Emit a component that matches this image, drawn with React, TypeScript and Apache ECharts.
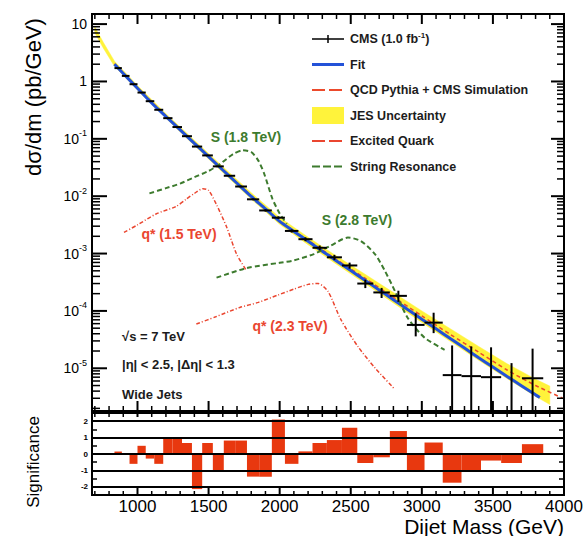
import React, { useEffect, useRef } from 'react';
import * as echarts from 'echarts';

const FONT = '"Liberation Sans", Arial, Helvetica, sans-serif';

const X_MIN = 680;
const X_MAX = 4000;
const Y_MIN = 1.8e-6;
const Y_MAX = 15;
const SIG_MIN = -2.5;
const SIG_MAX = 2.5;

// dijet mass bin edges (GeV)
const binEdges = [838, 890, 944, 1000, 1058, 1118, 1181, 1246, 1313, 1383, 1455, 1530, 1607, 1687, 1770, 1856, 1945, 2037, 2132, 2231, 2332, 2438, 2546, 2659, 2775, 2895, 3019, 3147, 3279, 3416, 3558, 3704, 3854];
// measured dsigma/dm (pb/GeV); null = empty bin
const dataValue = [1.71, 1.25, 0.896, 0.641, 0.453, 0.321, 0.2293, 0.1605, 0.1112, 0.0733, 0.0514, 0.0331, 0.0227, 0.01475, 0.00882, 0.00564, 0.00422, 0.00248, 0.00178, 0.00126, 8.6e-4, 6.2e-4, 3.0e-4, 2.1e-4, 1.83e-4, 5.7e-5, 6.25e-5, 7.6e-6, 7.3e-6, 7.0e-6, null, 6.7e-6];
const dataLow = [1.704, 1.245, 0.892, 0.638, 0.45, 0.319, 0.2274, 0.1589, 0.1099, 0.0723, 0.0506, 0.0324, 0.0222, 0.01432, 0.00851, 0.00539, 0.00399, 0.00232, 0.00164, 0.00114, 7.7e-4, 5.45e-4, 2.5e-4, 1.68e-4, 1.44e-4, 3.6e-5, 4.1e-5, 1.3e-6, 1.26e-6, 1.2e-6, 1e-7, 1.15e-6];
const dataHigh = [1.716, 1.255, 0.9, 0.644, 0.456, 0.323, 0.2312, 0.1621, 0.1125, 0.0743, 0.0522, 0.0338, 0.0232, 0.01518, 0.00913, 0.00589, 0.00445, 0.00264, 0.00192, 0.00138, 9.5e-4, 6.95e-4, 3.5e-4, 2.52e-4, 2.25e-4, 9.1e-5, 9.3e-5, 2.5e-5, 2.41e-5, 2.32e-5, 1.23e-5, 2.2e-5];
// (data - fit)/sigma per bin
const significance = [0.15, 0.0, -0.6, 0.5, -0.28, -0.6, 1.0, 1.0, 0.67, -2.14, 0.67, -1.04, 0.82, 0.82, -1.38, -1.38, 2.1, -0.6, 0.16, 0.67, 0.85, 1.6, -0.55, -0.2, 1.4, -1.0, 0.7, -1.75, -1.0, -0.4, -0.55, 0.6];

const fitMass = [838, 900, 1000, 1100, 1200, 1300, 1400, 1500, 1600, 1700, 1800, 1900, 2000, 2100, 2200, 2300, 2400, 2500, 2600, 2700, 2800, 2900, 3000, 3100, 3200, 3300, 3400, 3500, 3600, 3700, 3800, 3830];
const fitValue = [2.0, 1.38, 0.759, 0.422, 0.245, 0.143, 0.0836, 0.049, 0.0286, 0.0168, 0.00989, 0.00603, 0.00363, 0.00243, 0.00164, 0.0011, 7.45e-4, 5.05e-4, 3.42e-4, 2.32e-4, 1.57e-4, 1.06e-4, 7.19e-5, 4.88e-5, 3.3e-5, 2.25e-5, 1.53e-5, 1.05e-5, 7.19e-6, 4.98e-6, 3.44e-6, 3.1e-6];

const qcdMass = [838, 1000, 1200, 1400, 1600, 1800, 2000, 2200, 2400, 2600, 2800, 3000, 3200, 3400, 3600, 3800, 3990];
const qcdValue = [2.04, 0.776, 0.251, 0.0851, 0.0292, 0.0101, 0.00372, 0.0017, 7.85e-4, 3.72e-4, 1.74e-4, 8.22e-5, 3.89e-5, 1.91e-5, 9.33e-6, 5.01e-6, 3.02e-6];

const jesMass = [700, 760, 838, 1000, 1200, 1400, 1600, 1800, 2000, 2200, 2400, 2600, 2800, 3000, 3200, 3400, 3600, 3800, 3900];
const jesLow = [7.08, 3.8, 1.84, 0.708, 0.229, 0.0767, 0.026, 0.00891, 0.00324, 0.00143, 6.53e-4, 3.02e-4, 1.38e-4, 6.31e-5, 2.95e-5, 1.38e-5, 6.61e-6, 3.24e-6, 2.34e-6];
const jesHigh = [8.91, 4.79, 2.26, 0.851, 0.275, 0.0944, 0.0327, 0.01148, 0.00427, 0.00193, 9.02e-4, 4.37e-4, 2.09e-4, 1.0e-4, 4.9e-5, 2.4e-5, 1.2e-5, 6.46e-6, 4.9e-6];

const s18Mass = [1084, 1200, 1300, 1400, 1500, 1580, 1670, 1740, 1800, 1850, 1890, 1950, 2000, 2050];
const s18Value = [0.0112, 0.0138, 0.0166, 0.0214, 0.0275, 0.0363, 0.0537, 0.0631, 0.0589, 0.0417, 0.0251, 0.00891, 0.00501, 0.00331];

const q15Mass = [905, 1000, 1130, 1270, 1343, 1400, 1460, 1500, 1556, 1627, 1697, 1768];
const q15Value = [2.34e-3, 3.16e-3, 4.9e-3, 6.6e-3, 8.9e-3, 0.0112, 0.0135, 0.0126, 7.1e-3, 2.9e-3, 9.8e-4, 5.0e-4];

const s28Mass = [1556, 1770, 2000, 2100, 2240, 2360, 2480, 2570, 2670, 2740, 2810, 2900, 3020, 3160];
const s28Value = [3.8e-4, 5.6e-4, 6.9e-4, 7.6e-4, 9.8e-4, 1.38e-3, 1.9e-3, 1.66e-3, 9.8e-4, 5.0e-4, 2.24e-4, 7.6e-5, 3.4e-5, 2.1e-5];

const q23Mass = [1414, 1550, 1720, 1850, 1990, 2100, 2200, 2270, 2340, 2430, 2550, 2670, 2810];
const q23Value = [5.9e-5, 7.9e-5, 1.15e-4, 1.41e-4, 1.9e-4, 2.4e-4, 2.9e-4, 3.0e-4, 2.19e-4, 7.1e-5, 2.4e-5, 1.02e-5, 4.3e-6];

// tick positions
const xTicks = [700, 800, 900, 1000, 1100, 1200, 1300, 1400, 1500, 1600, 1700, 1800, 1900, 2000, 2100, 2200, 2300, 2400, 2500, 2600, 2700, 2800, 2900, 3000, 3100, 3200, 3300, 3400, 3500, 3600, 3700, 3800, 3900, 4000];
const yMajorTicks = [1e-5, 1e-4, 1e-3, 1e-2, 1e-1, 1, 10];
const yMinorTicks = [
  2e-6, 3e-6, 4e-6, 5e-6, 6e-6, 7e-6, 8e-6, 9e-6,
  2e-5, 3e-5, 4e-5, 5e-5, 6e-5, 7e-5, 8e-5, 9e-5,
  2e-4, 3e-4, 4e-4, 5e-4, 6e-4, 7e-4, 8e-4, 9e-4,
  2e-3, 3e-3, 4e-3, 5e-3, 6e-3, 7e-3, 8e-3, 9e-3,
  0.02, 0.03, 0.04, 0.05, 0.06, 0.07, 0.08, 0.09,
  0.2, 0.3, 0.4, 0.5, 0.6, 0.7, 0.8, 0.9,
  2, 3, 4, 5, 6, 7, 8, 9,
];
const sigLines = [-2, -1, 0, 1, 2];

const C_FIT = '#2352d8';
const C_QCD = '#ec4a2c';
const C_JES = '#fff33b';
const C_GREEN = '#3d7b2e';
const C_RED = '#ea4630';
const C_SIG = '#e8380f';
const C_TEXT = '#1c1c1c';

const zip = (a: number[], b: number[]) => a.map((v, i) => [v, b[i]]);

function lineSeries(name: string, xs: number[], ys: number[], color: string, width: number, type: any, z: number) {
  return {
    name,
    type: 'line',
    xAxisIndex: 0,
    yAxisIndex: 0,
    data: zip(xs, ys),
    symbol: 'none',
    showSymbol: false,
    smooth: 0.25,
    lineStyle: { color, width, type },
    z,
    silent: true,
  };
}

function txt(text: string, x: number, y: number, color: string, size: number, align = 'left', weight = 'bold', rotation = 0) {
  return {
    type: 'text',
    x,
    y,
    rotation,
    silent: true,
    z: 100,
    style: {
      text,
      fill: color,
      fontSize: size,
      fontFamily: FONT,
      fontWeight: weight,
      textAlign: align,
      align,
      textVerticalAlign: 'middle',
      verticalAlign: 'middle',
    },
  };
}

function legendLine(y: number, color: string, width: number, dash: any) {
  return {
    type: 'line',
    silent: true,
    z: 100,
    shape: { x1: 312, y1: y, x2: 344, y2: y },
    style: { stroke: color, lineWidth: width, lineDash: dash },
  };
}

export default function App() {
  const ref = useRef<HTMLDivElement>(null);

  useEffect(() => {
    const chart = echarts.init(ref.current!, null, { renderer: 'svg' });

    const rows = binEdges.slice(0, -1).map((lo, i) => [lo, binEdges[i + 1], dataValue[i], dataLow[i], dataHigh[i]]);
    const sigRows = binEdges.slice(0, -1).map((lo, i) => [lo, binEdges[i + 1], significance[i]]);

    const legendRows = [39, 64.5, 90, 115.5, 141, 166.5];

    const option: any = {
      animation: false,
      backgroundColor: '#ffffff',
      grid: [
        { left: 92, top: 14, width: 472, height: 397, show: true, borderColor: '#000', borderWidth: 2, backgroundColor: 'transparent', outerBoundsMode: 'none' },
        { left: 92, top: 413, width: 472, height: 82, show: true, borderColor: '#000', borderWidth: 2, backgroundColor: 'transparent', outerBoundsMode: 'none' },
      ],
      xAxis: [
        { gridIndex: 0, type: 'value', min: X_MIN, max: X_MAX, axisLabel: { show: false }, axisTick: { show: false }, axisLine: { show: false }, splitLine: { show: false } },
        {
          gridIndex: 1, type: 'value', min: X_MIN, max: X_MAX, minInterval: 500, maxInterval: 500,
          axisLabel: {
            fontSize: 17, color: '#000', fontFamily: FONT, margin: 3, lineHeight: 17,
            formatter: (v: number) => (v % 500 === 0 ? String(v) : ''),
          },
          axisTick: { show: false }, axisLine: { show: false }, splitLine: { show: false },
        },
      ],
      yAxis: [
        {
          gridIndex: 0, type: 'log', logBase: 10, min: Y_MIN, max: Y_MAX,
          axisLabel: {
            margin: 5,
            formatter: (v: number) => {
              const e = Math.log10(v);
              const r = Math.round(e);
              if (Math.abs(e - r) > 1e-6) return '';
              if (r === 0) return '{b|1}';
              if (r === 1) return '{b|10}';
              return '{b|10}{s|' + r + '}';
            },
            rich: {
              b: { fontSize: 14, fontFamily: FONT, color: '#000', lineHeight: 20 },
              s: { fontSize: 9, fontFamily: FONT, color: '#000', verticalAlign: 'top', lineHeight: 10 },
            },
          },
          axisTick: { show: false }, axisLine: { show: false }, splitLine: { show: false },
        },
        {
          gridIndex: 1, type: 'value', min: SIG_MIN, max: SIG_MAX, interval: 0.5,
          axisLabel: {
            fontSize: 8, color: '#000', fontFamily: FONT, margin: 4, fontWeight: 'bold',
            formatter: (v: number) => (Number.isInteger(v) && Math.abs(v) <= 2 ? String(v) : ''),
          },
          axisTick: { show: true, inside: true, length: 5, lineStyle: { color: '#000', width: 1.5 } },
          axisLine: { show: false }, splitLine: { show: false },
        },
        {
          gridIndex: 1, type: 'value', position: 'right', min: SIG_MIN, max: SIG_MAX, interval: 0.5,
          axisLabel: { show: false },
          axisTick: { show: true, inside: true, length: 5, lineStyle: { color: '#000', width: 1.5 } },
          axisLine: { show: false }, splitLine: { show: false },
        },
      ],
      series: [
        {
          name: 'JES Uncertainty',
          type: 'custom',
          xAxisIndex: 0,
          yAxisIndex: 0,
          silent: true,
          z: 1,
          data: jesMass.map((m, i) => [m, jesLow[i], jesHigh[i]]),
          renderItem: (params: any, api: any) => {
            if (params.dataIndexInside !== 0) return { type: 'group', children: [] };
            const n = params.dataInsideLength;
            const upper: number[][] = [];
            const lower: number[][] = [];
            for (let i = 0; i < n; i++) {
              const m = api.value(0, i);
              upper.push(api.coord([m, api.value(2, i)]));
              lower.push(api.coord([m, api.value(1, i)]));
            }
            return {
              type: 'polygon',
              shape: { points: upper.concat(lower.reverse()) },
              style: { fill: C_JES, stroke: C_JES, lineWidth: 0.5 },
            };
          },
        },
        lineSeries('QCD Pythia + CMS Simulation', qcdMass, qcdValue, C_QCD, 1.5, [4, 3], 2),
        lineSeries('Fit', fitMass, fitValue, C_FIT, 3, 'solid', 3),
        lineSeries('S (1.8 TeV)', s18Mass, s18Value, C_GREEN, 2, [5, 3], 4),
        lineSeries('S (2.8 TeV)', s28Mass, s28Value, C_GREEN, 2, [5, 3], 4),
        lineSeries('q* (1.5 TeV)', q15Mass, q15Value, C_RED, 1.5, [4, 2, 1, 2], 4),
        lineSeries('q* (2.3 TeV)', q23Mass, q23Value, C_RED, 1.5, [4, 2, 1, 2], 4),
        {
          name: 'CMS (1.0 fb-1)',
          type: 'custom',
          xAxisIndex: 0,
          yAxisIndex: 0,
          silent: true,
          z: 6,
          data: rows,
          renderItem: (params: any, api: any) => {
            const cs = params.coordSys;
            const clampY = (y: number) => Math.max(cs.y, Math.min(cs.y + cs.height, y));
            const lo = api.value(0);
            const hi = api.value(1);
            const v = api.value(2);
            const eLo = api.value(3);
            const eHi = api.value(4);
            const c = (lo + hi) / 2;
            const xc = api.coord([c, 1])[0];
            const yLo = clampY(api.coord([c, eLo])[1]);
            const yHi = clampY(api.coord([c, eHi])[1]);
            const children: any[] = [
              { type: 'line', shape: { x1: xc, y1: yLo, x2: xc, y2: yHi }, style: { stroke: '#000', lineWidth: 2 } },
            ];
            if (!isNaN(v) && v > 0) {
              const y = api.coord([c, v])[1];
              const x1 = api.coord([lo, v])[0];
              const x2 = api.coord([hi, v])[0];
              children.push({ type: 'line', shape: { x1, y1: y, x2, y2: y }, style: { stroke: '#000', lineWidth: 2 } });
            }
            return { type: 'group', children };
          },
        },
        {
          name: 'xticks-main',
          type: 'custom',
          xAxisIndex: 0,
          yAxisIndex: 0,
          silent: true,
          z: 8,
          data: xTicks.map((v) => [v, 1]),
          renderItem: (params: any, api: any) => {
            const cs = params.coordSys;
            const v = api.value(0);
            const x = api.coord([v, 1])[0];
            const major = v % 500 === 0;
            const len = major ? 10 : 5;
            const st = { stroke: '#000', lineWidth: major ? 2 : 1.5 };
            return {
              type: 'group',
              children: [
                { type: 'line', shape: { x1: x, y1: cs.y, x2: x, y2: cs.y + len }, style: st },
                { type: 'line', shape: { x1: x, y1: cs.y + cs.height, x2: x, y2: cs.y + cs.height - len }, style: st },
              ],
            };
          },
        },
        {
          name: 'yticks-main',
          type: 'custom',
          xAxisIndex: 0,
          yAxisIndex: 0,
          silent: true,
          z: 8,
          data: yMajorTicks.map((v) => [X_MIN, v, 1]).concat(yMinorTicks.map((v) => [X_MIN, v, 0])),
          renderItem: (params: any, api: any) => {
            const cs = params.coordSys;
            const v = api.value(1);
            const major = api.value(2) === 1;
            const y = api.coord([X_MIN, v])[1];
            const len = major ? 15 : 8;
            const lenR = major ? 13 : 7;
            const st = { stroke: '#000', lineWidth: major ? 2 : 1.5 };
            return {
              type: 'group',
              children: [
                { type: 'line', shape: { x1: cs.x, y1: y, x2: cs.x + len, y2: y }, style: st },
                { type: 'line', shape: { x1: cs.x + cs.width, y1: y, x2: cs.x + cs.width - lenR, y2: y }, style: st },
              ],
            };
          },
        },
        {
          name: 'Significance',
          type: 'custom',
          xAxisIndex: 1,
          yAxisIndex: 1,
          silent: true,
          z: 2,
          data: sigRows,
          renderItem: (params: any, api: any) => {
            const lo = api.value(0);
            const hi = api.value(1);
            const s = api.value(2);
            const p0 = api.coord([lo, 0]);
            const p1 = api.coord([hi, s]);
            return {
              type: 'rect',
              shape: { x: p0[0], y: Math.min(p0[1], p1[1]), width: p1[0] - p0[0], height: Math.abs(p1[1] - p0[1]) },
              style: { fill: C_SIG },
            };
          },
          markLine: {
            silent: true,
            symbol: ['none', 'none'],
            label: { show: false },
            lineStyle: { color: '#000', width: 2, type: 'solid' },
            data: sigLines.map((v) => ({ yAxis: v })),
            z: 5,
          },
        },
        {
          name: 'xticks-low',
          type: 'custom',
          xAxisIndex: 1,
          yAxisIndex: 1,
          silent: true,
          z: 8,
          data: xTicks.map((v) => [v, 0]),
          renderItem: (params: any, api: any) => {
            const cs = params.coordSys;
            const v = api.value(0);
            const x = api.coord([v, 0])[0];
            const major = v % 500 === 0;
            const st = { stroke: '#000', lineWidth: major ? 2 : 1.5 };
            return {
              type: 'group',
              children: [
                { type: 'line', shape: { x1: x, y1: cs.y, x2: x, y2: cs.y + 4 }, style: st },
                { type: 'line', shape: { x1: x, y1: cs.y + cs.height, x2: x, y2: cs.y + cs.height - (major ? 7 : 4) }, style: st },
              ],
            };
          },
        },
      ],
      graphic: [
        txt('dσ/dm (pb/GeV)', 33, 97, '#000', 22, 'center', 'normal', Math.PI / 2),
        txt('Significance', 33, 462, '#000', 17, 'center', 'normal', Math.PI / 2),
        txt('Dijet Mass (GeV)', 564, 526, '#000', 21, 'right', 'normal'),
        // legend
        legendLine(legendRows[0], '#000', 1.5, null),
        { type: 'line', silent: true, z: 100, shape: { x1: 328, y1: legendRows[0] - 4, x2: 328, y2: legendRows[0] + 4 }, style: { stroke: '#000', lineWidth: 1.5 } },
        {
          type: 'text', x: 350, y: legendRows[0], silent: true, z: 100,
          style: {
            text: '{a|CMS (1.0 fb}{s|-1}{a|)}',
            textVerticalAlign: 'middle', verticalAlign: 'middle',
            rich: {
              a: { fontSize: 12.5, fontWeight: 'bold', fontFamily: FONT, fill: C_TEXT, color: C_TEXT, lineHeight: 16 },
              s: { fontSize: 8, fontWeight: 'bold', fontFamily: FONT, fill: C_TEXT, color: C_TEXT, verticalAlign: 'top', lineHeight: 9 },
            },
          },
        },
        legendLine(legendRows[1], C_FIT, 3, null),
        txt('Fit', 350, legendRows[1], C_TEXT, 12.5),
        legendLine(legendRows[2], C_QCD, 2, [13, 4]),
        txt('QCD Pythia + CMS Simulation', 350, legendRows[2], C_TEXT, 12.5),
        { type: 'rect', silent: true, z: 100, shape: { x: 312, y: legendRows[3] - 8.5, width: 32, height: 17 }, style: { fill: C_JES } },
        txt('JES Uncertainty', 350, legendRows[3], C_TEXT, 12.5),
        legendLine(legendRows[4], C_RED, 2, [13, 4]),
        txt('Excited Quark', 350, legendRows[4], C_TEXT, 12.5),
        legendLine(legendRows[5], C_GREEN, 2, [8, 3]),
        txt('String Resonance', 350, legendRows[5], C_TEXT, 12.5),
        // signal annotations
        txt('S (1.8 TeV)', 246, 137, C_GREEN, 14, 'center'),
        txt('q* (1.5 TeV)', 179, 234, C_RED, 14, 'center'),
        txt('S (2.8 TeV)', 357, 220, C_GREEN, 14, 'center'),
        txt('q* (2.3 TeV)', 290, 326, C_RED, 14, 'center'),
        // selection text
        txt('√s = 7 TeV', 122, 336, C_TEXT, 13),
        txt('|η| < 2.5, |Δη| < 1.3', 122, 364, C_TEXT, 13),
        txt('Wide Jets', 122, 394, C_TEXT, 13),
      ],
    };

    chart.setOption(option);
    return () => chart.dispose();
  }, []);

  return (
    <div
      ref={ref}
      style={{ position: 'fixed', left: 0, top: 0, width: 587, height: 536, background: '#ffffff' }}
    />
  );
}
